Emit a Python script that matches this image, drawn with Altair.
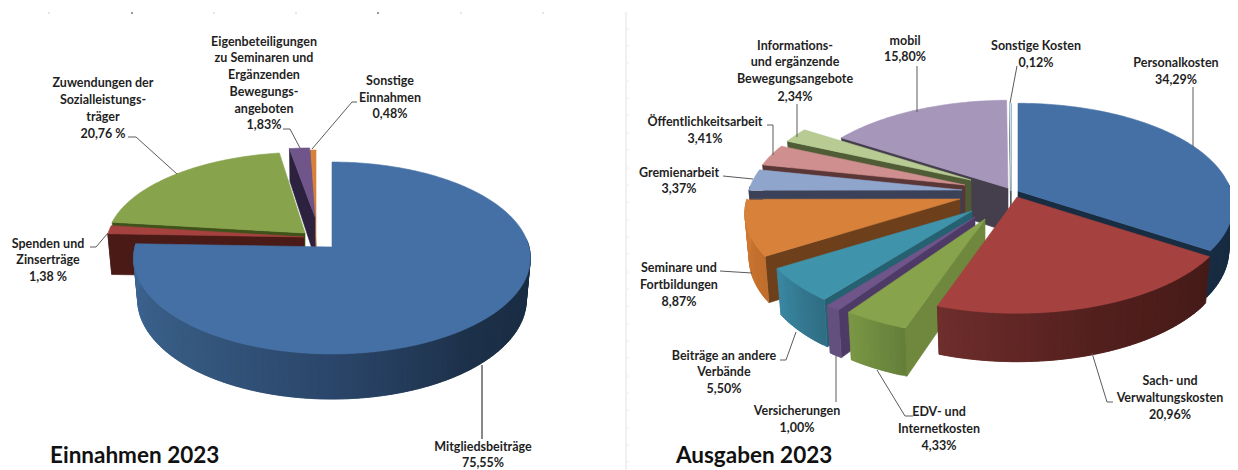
import math
import altair as alt

# ---------- values ----------
income_names = ["Mitgliedsbeiträge", "Spenden", "Zuwendungen", "Eigenbeteiligungen", "Sonstige"]
income_vals = [75.55, 1.38, 20.76, 1.83, 0.48]
expense_names = ["Personal", "Sach", "EDV", "Vers", "Beitr", "Sem", "Grem", "Oeff", "Info", "mobil", "Sonst"]
expense_vals = [34.29, 20.96, 4.33, 1.00, 5.50, 8.87, 3.37, 3.41, 2.34, 15.80, 0.12]

# ---------- layout and style, separate from the values ----------
OFF = 8
LEFT = dict(rx=197, ry=94.7, k=0.1145, d0=41, shrink=0.98)
RIGHT = dict(rx=213, ry=100, k=0.14, d0=44, shrink=0.98)

# name: (cx, cy, top colour, cut-face colour, side colour stops [(angle, colour)])
left_style = {
    "Mitgliedsbeiträge": (332, 247, "#4570a5", "#1a2c42",
        [(90, "#182b40"), (140, "#1c3049"), (180, "#2b466a"), (220, "#35587f"), (272, "#3e6896")]),
    "Spenden": (304, 237, "#a5423f", "#4a1a17", [(0, "#4a1a17")]),
    "Zuwendungen": (305, 233, "#87a34c", "#3f5219", [(0, "#3f5219")]),
    "Eigenbeteiligungen": (315, 217, "#6f5589", "#2c2240", [(0, "#2c2240")]),
    "Sonstige": (316, 246, "#d7813b", "#5a3a1c", [(0, "#5a3a1c")]),
}
left_ry = {"Eigenbeteiligungen": 77, "Sonstige": 107, "Zuwendungen": 90}
left_order = ["Sonstige", "Eigenbeteiligungen", "Zuwendungen", "Spenden", "Mitgliedsbeiträge"]

right_style = {
    "Personal": (1018, 191, "#4570a5", "#182c42", [(0, "#182c42")]),
    "Sach": (1017, 197, "#a5423f", "#3f1815",
        [(120, "#431a17"), (160, "#521f1d"), (199, "#6e2e2c")]),
    "EDV": (985, 219, "#87a34c", "#6f883e", [(199, "#647e39"), (215, "#7b9845")]),
    "Vers": (975, 217, "#6f5589", "#4e3a66", [(0, "#64507f")]),
    "Beitr": (972, 211, "#3f94ab", "#266171", [(218, "#2f6d84"), (238, "#3a87a1")]),
    "Sem": (960, 199, "#d7813b", "#6d401b", [(238, "#c06e2d"), (270, "#d17a35")]),
    "Grem": (962, 190, "#8fa5cb", "#3a4158", [(0, "#3a4158")]),
    "Oeff": (965, 185, "#cf8f8e", "#5b3636", [(0, "#5b3636")]),
    "Info": (971, 180, "#b7cb93", "#4f5c36", [(0, "#4f5c36")]),
    "mobil": (1008, 188, "#a696ba", "#453f4d", [(0, "#453f4d")]),
    "Sonst": (1011, 191, "#c6e5ef", "#45505a", [(0, "#45505a")]),
}
right_order = ["mobil", "Sonst", "Personal", "Info", "Oeff", "Grem", "Sem", "Beitr", "Vers", "EDV", "Sach"]


def hex2rgb(h):
    return [int(h[i:i + 2], 16) for i in (1, 3, 5)]


def colour_at(stops, a):
    if len(stops) == 1 or a <= stops[0][0]:
        return stops[0][1]
    for (a0, c0), (a1, c1) in zip(stops, stops[1:]):
        if a <= a1:
            t = (a - a0) / (a1 - a0)
            m = [round(u + (v - u) * t) for u, v in zip(hex2rgb(c0), hex2rgb(c1))]
            return "#%02x%02x%02x" % tuple(m)
    return stops[-1][1]


def point(p, cx, cy, ry, a, drop=False):
    A = math.radians(a)
    X, Y = math.sin(A), math.cos(A)
    w = 1 + p["k"] * Y
    x, y = p["rx"] * X / w, -ry * Y / w
    if drop:
        x *= p["shrink"]
        y += depth(p, Y)
    return [cx + x - OFF, cy + y - OFF]


def depth(p, Y):
    return p["d0"] * (1 - 0.2 * Y) if Y >= 0 else p["d0"] * (1 - 0.1 * Y)


def feature(ring, fill):
    ring = [list(q) for q in ring]
    ring.append(list(ring[0]))
    return {"type": "Feature", "properties": {"fill": fill},
            "geometry": {"type": "Polygon", "coordinates": [ring]}}


def angle_steps(a0, a1, step):
    n = max(1, int(math.ceil((a1 - a0) / step)))
    return [a0 + (a1 - a0) * i / n for i in range(n + 1)]


def build_pie(names, vals, style, order, p, ry_over=None):
    ry_over = ry_over or {}
    total = sum(vals)
    spans, acc = {}, 0.0
    for n, v in zip(names, vals):
        spans[n] = (acc / total * 360, (acc + v) / total * 360)
        acc += v
    out = []
    for n in order:
        a0, a1 = spans[n]
        cx, cy, top, cut, stops = style[n]
        ry = ry_over.get(n, p["ry"])
        apex = [cx - OFF, cy - OFF]
        apex_low = [cx - OFF, cy - OFF + p["d0"]]
        for a, vis in ((a0, math.sin(math.radians(a0)) < 0), (a1, math.sin(math.radians(a1)) > 0)):
            if vis:
                out.append(feature([apex, point(p, cx, cy, ry, a),
                                    point(p, cx, cy, ry, a, True), apex_low], cut))
        lo, hi = max(a0, 85), min(a1, 272)
        if hi > lo:
            steps = angle_steps(lo, hi, 1.5)
            # each strip reaches under the next one, so no background leaks through the seams
            for s0, s1 in zip(steps, steps[1:]):
                far = min(s1 + 1.5, hi)
                ring = [point(p, cx, cy, ry, s) for s in angle_steps(s0, far, 0.75)] + \
                       [point(p, cx, cy, ry, s, True) for s in reversed(angle_steps(s0, far, 0.75))]
                out.append(feature(ring, colour_at(stops, (s0 + s1) / 2)))
        arc = [point(p, cx, cy, ry, a) for a in angle_steps(a0, a1, 1.0)]
        out.append(feature([apex] + arc, top))
    return out


features = build_pie(income_names, income_vals, left_style, left_order, LEFT, left_ry) + \
    build_pie(expense_names, expense_vals, right_style, right_order, RIGHT)

# ---------- label text with its placement ----------
labels = [
    (264, [42, 58, 75, 92, 109, 125], ["Eigenbeteiligungen", "zu Seminaren und", "Ergänzenden", "Bewegungs-", "angeboten", "1,83%"]),
    (103, [83, 100, 117, 134], ["Zuwendungen der", "Sozialleistungs-", "träger", "20,76 %"]),
    (48, [244, 260, 277], ["Spenden und", "Zinserträge", "1,38 %"]),
    (390, [81, 98, 114], ["Sonstige", "Einnahmen", "0,48%"]),
    (483, [447, 463], ["Mitgliedsbeiträge", "75,55%"]),
    (795, [46, 62, 79, 97], ["Informations-", "und ergänzende", "Bewegungsangebote", "2,34%"]),
    (905, [41, 57], ["mobil", "15,80%"]),
    (705, [122, 139], ["Öffentlichkeitsarbeit", "3,41%"]),
    (679, [173, 189], ["Gremienarbeit", "3,37%"]),
    (1036, [46, 63], ["Sonstige Kosten", "0,12%"]),
    (1176, [63, 80], ["Personalkosten", "34,29%"]),
    (1170, [381, 398, 415], ["Sach-  und", "Verwaltungskosten", "20,96%"]),
    (939, [412, 429, 446], ["EDV-  und", "Internetkosten", "4,33%"]),
    (797, [411, 428], ["Versicherungen", "1,00%"]),
    (724, [356, 372, 389], ["Beiträge an andere", "Verbände", "5,50%"]),
    (679, [268, 285, 302], ["Seminare und", "Fortbildungen", "8,87%"]),
]
label_rows = [{"px": x - OFF, "py": y - OFF, "t": t} for x, ys, ts in labels for y, t in zip(ys, ts)]

leaders = [
    [(128, 137), (136, 137), (177, 174)],
    [(90, 247), (96, 247), (108, 233)],
    [(283, 129), (290, 129), (300, 148)],
    [(357, 102), (352, 102), (312, 149)],
    [(797, 104), (797, 137)],
    [(917, 66), (917, 112)],
    [(767, 125), (773, 125), (773, 155)],
    [(723, 176), (753, 179)],
    [(1017, 66), (1010, 103)],
    [(1193, 87), (1193, 147)],
    [(1092, 353), (1107, 402), (1113, 402)],
    [(877, 370), (905, 416), (913, 416)],
    [(836, 356), (836, 402)],
    [(796, 332), (786, 360), (780, 360)],
    [(720, 271), (752, 273)],
]
leader_rows = [{"px": x - OFF, "py": y - OFF, "g": i, "o": j}
               for i, pts in enumerate(leaders) for j, (x, y) in enumerate(pts)]
black_leader = [{"px": 482 - OFF, "py": 365 - OFF, "g": 0, "o": 0}, {"px": 482 - OFF, "py": 439 - OFF, "g": 0, "o": 1}]

titles = [{"px": 50 - OFF, "py": 456 - OFF, "t": "Einnahmen 2023"},
          {"px": 676 - OFF, "py": 456 - OFF, "t": "Ausgaben 2023"}]

ruler_top = [49, 132, 214, 296, 378, 461, 543]
ruler_dark = [132, 378]
ruler_side = [29, 46, 63, 81, 98, 115, 133, 150, 168, 185, 202, 220, 237, 254, 272, 289, 306, 324, 341, 358, 376, 393, 410, 428, 445, 462]

X = alt.X("px:Q", scale=None, axis=None)
Y = alt.Y("py:Q", scale=None, axis=None)
X2 = alt.X2("px2:Q")

geo = alt.Chart(alt.InlineData(values={"type": "FeatureCollection", "features": features},
                               format=alt.DataFormat(property="features", type="json"))).mark_geoshape(
    strokeWidth=0.6
).encode(
    fill=alt.Fill("properties.fill:N", scale=None, legend=None, sort=None),
    stroke=alt.Stroke("properties.fill:N", scale=None, legend=None, sort=None),
).project(type="identity", scale=1, translate=[0, 0])

line_layer = alt.Chart(alt.Data(values=leader_rows)).mark_line(color="#5a5a5a", strokeWidth=1).encode(
    x=X, y=Y, detail="g:N", order="o:Q")
black_layer = alt.Chart(alt.Data(values=black_leader)).mark_line(color="#111111", strokeWidth=1).encode(
    x=X, y=Y, detail="g:N", order="o:Q")
text_layer = alt.Chart(alt.Data(values=label_rows)).mark_text(
    font="Lato", fontWeight="bold", fontSize=12.5, color="#1f1f1f", align="center", baseline="middle"
).encode(x=X, y=Y, text="t:N")
title_layer = alt.Chart(alt.Data(values=titles)).mark_text(
    font="Lato", fontWeight="bold", fontSize=22.5, color="#111111", align="left", baseline="middle"
).encode(x=X, y=Y, text="t:N")

side_rule = alt.Chart(alt.Data(values=[{"px": 626 - OFF, "py": 12 - OFF, "p2": 470 - OFF}])).mark_rule(
    color="#e2e2e2", strokeWidth=1).encode(x=X, y=Y, y2=alt.Y2("p2:Q"))
side_ticks = alt.Chart(alt.Data(values=[{"px": 626 - OFF, "px2": 629 - OFF, "py": y - OFF} for y in ruler_side])).mark_rule(
    color="#eeeeee", strokeWidth=1).encode(x=X, x2=X2, y=Y)
top_ticks = alt.Chart(alt.Data(values=[{"px": x - OFF, "py": 12 - OFF, "p2": 14 - OFF, "c": "#333333" if x in ruler_dark else "#cccccc"} for x in ruler_top])).mark_rule(
    strokeWidth=1).encode(x=X, y=Y, y2=alt.Y2("p2:Q"), color=alt.Color("c:N", scale=None, legend=None))

chart = alt.layer(side_rule, side_ticks, top_ticks, geo, line_layer, black_layer, text_layer, title_layer).properties(
    width=1222, height=462, padding=0, autosize=alt.AutoSizeParams(type="none"), background="white"
).configure_view(stroke=None)

chart.save("out.html", embed_options={"renderer": "svg", "actions": False})
